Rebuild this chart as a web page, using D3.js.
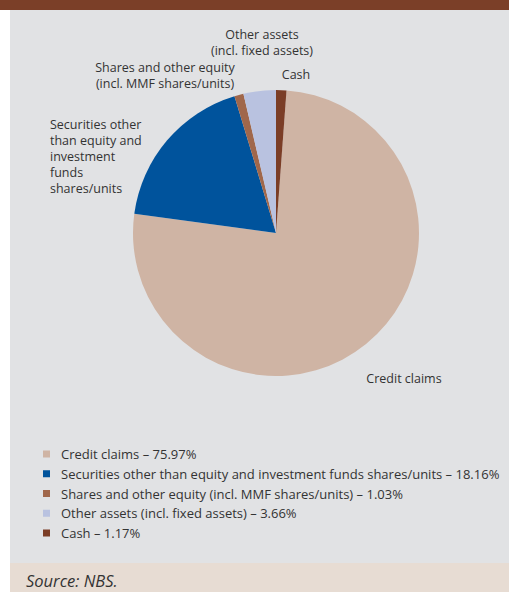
<!DOCTYPE html>
<html>
<head>
<meta charset="utf-8">
<script src="https://cdn.jsdelivr.net/npm/d3@7"></script>
<style>
  html, body { margin: 0; padding: 0; background: #ffffff; }
  svg { display: block; }
  text { font-family: "Open Sans", "Noto Sans", sans-serif; fill: #333333; }
</style>
</head>
<body>
<svg id="chart" width="509" height="592"></svg>
<script>
// Structure of NBS assets, shares in per cent
const categories = [
  "Credit claims",
  "Securities other than equity and investment funds shares/units",
  "Shares and other equity (incl. MMF shares/units)",
  "Other assets (incl. fixed assets)",
  "Cash"
];
const shares = [75.97, 18.16, 1.03, 3.66, 1.17];
const sliceColors = ["#cfb4a4", "#00539c", "#a0674b", "#b9c2e0", "#7b3d26"];
const sliceLabels = [
  ["Credit claims"],
  ["Securities other", "than equity and", "investment", "funds", "shares/units"],
  ["Shares and other equity", "(incl. MMF shares/units)"],
  ["Other assets", "(incl. fixed assets)"],
  ["Cash"]
];
const sourceNote = "Source: NBS.";

const svg = d3.select("#chart");
const W = 509, H = 592;

// frame: brown header strip, grey panel, beige source band
svg.append("rect").attr("x", 0).attr("y", 0).attr("width", W).attr("height", H).attr("fill", "#ffffff");
svg.append("rect").attr("x", 10).attr("y", 10).attr("width", W - 10).attr("height", 553).attr("fill", "#e1e2e4");
svg.append("rect").attr("x", 0).attr("y", 0).attr("width", W).attr("height", 10).attr("fill", "#7b3f28");
svg.append("rect").attr("x", 10).attr("y", 563).attr("width", W - 10).attr("height", H - 563).attr("fill", "#e7dcd3");

svg.append("text")
  .attr("x", 26).attr("y", 587)
  .attr("font-size", 16.5).attr("font-style", "italic")
  .text(sourceNote);

// pie
const cx = 276, cy = 233, R = 143;
const total = d3.sum(shares);
const a0 = 2 * Math.PI * shares[4] / total; // cash sits just right of 12 o'clock
const pie = d3.pie().sort(null).value(d => d).startAngle(a0).endAngle(a0 + 2 * Math.PI);
const arc = d3.arc().innerRadius(0).outerRadius(R);
const arcs = pie(shares);

const g = svg.append("g").attr("transform", `translate(${cx},${cy})`);
g.selectAll("path.slice")
  .data(arcs)
  .join("path")
  .attr("class", "slice")
  .attr("d", arc)
  .attr("fill", (d, i) => sliceColors[i]);

// slice labels, placed around the pie
const labelPlace = [
  { dx: 128, dy: 150, anchor: "middle" },
  { dx: -226, dy: -104, anchor: "start" },
  { dx: -111, dy: -161, anchor: "middle" },
  { dx: -14, dy: -194, anchor: "middle" },
  { dx: 20, dy: -154, anchor: "middle" }
];
const lineH = 16;
sliceLabels.forEach((lines, i) => {
  const p = labelPlace[i];
  const t = g.append("text")
    .attr("text-anchor", p.anchor)
    .attr("font-size", 12.5);
  lines.forEach((ln, k) => {
    t.append("tspan").attr("x", p.dx).attr("y", p.dy + k * lineH).text(ln);
  });
});

// legend
const legend = svg.append("g").attr("transform", "translate(43,454)");
const rowH = 19.75;
const fmt = d3.format(".2f");
const rows = legend.selectAll("g.row")
  .data(categories)
  .join("g")
  .attr("class", "row")
  .attr("transform", (d, i) => `translate(0,${i * rowH})`);
rows.append("rect")
  .attr("x", 0).attr("y", -3.5).attr("width", 7).attr("height", 7)
  .attr("fill", (d, i) => sliceColors[i]);
rows.append("text")
  .attr("x", 18).attr("y", 5)
  .attr("font-size", 13)
  .text((d, i) => `${d} \u2013 ${fmt(shares[i])}%`);
</script>
</body>
</html>
